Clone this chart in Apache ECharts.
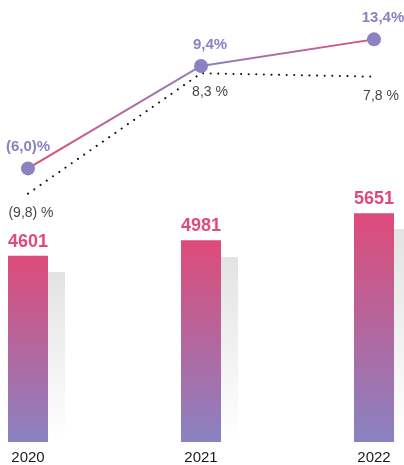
<!DOCTYPE html>
<html>
<head>
<meta charset="utf-8">
<script src="https://cdn.jsdelivr.net/npm/echarts@6/dist/echarts.min.js"></script>
<style>
html,body{margin:0;padding:0;background:#fff;}
#c{width:404px;height:465px;}
</style>
</head>
<body>
<div id="c"></div>
<script>
const categories = ['2020', '2021', '2022'];
const revenue = [4601, 4981, 5651];
const shadowValues = [4200, 4570, 5260];
const marginActual = [-6.0, 9.4, 13.4];
const marginDotted = [-9.8, 8.3, 7.8];

const PINK = '#de4b79';
const PURPLE = '#8a82c2';
const FONT = 'Liberation Sans';

function fmt(v, space) {
  const s = Math.abs(v).toFixed(1).replace('.', ',');
  return (v < 0 ? '(' + s + ')' : s) + (space ? ' %' : '%');
}

const chart = echarts.init(document.getElementById('c'), null, {renderer: 'canvas'});

const seg1 = marginActual.map((v, i) => (i <= 1 ? v : null));
const seg2 = marginActual.map((v, i) => (i >= 1 ? v : null));

const actualLabelOffsets = [[0, 0], [9, 0], [9, 0]];
const dottedLabelOffsets = [[3, 0], [9, 0], [7, 1]];

chart.setOption({
  animation: false,
  textStyle: {fontFamily: FONT},
  grid: [
    {left: 28, right: 30, top: 0, bottom: 23},
    {left: 45, right: 13, top: 0, bottom: 23}
  ],
  xAxis: [
    {type: 'category', gridIndex: 0, data: categories, boundaryGap: false,
     axisLine: {show: false}, axisTick: {show: false},
     axisLabel: {color: '#1a1a1a', fontSize: 15, fontFamily: FONT, margin: 8}},
    {type: 'category', gridIndex: 1, data: categories, boundaryGap: false, show: false}
  ],
  yAxis: [
    {type: 'value', gridIndex: 0, min: 0, max: 10917, show: false, splitLine: {show: false}},
    {type: 'value', gridIndex: 0, min: -47.14, max: 19.32, show: false, splitLine: {show: false}},
    {type: 'value', gridIndex: 1, min: 0, max: 10917, show: false, splitLine: {show: false}}
  ],
  series: [
    {
      type: 'bar', xAxisIndex: 1, yAxisIndex: 2, data: shadowValues, barWidth: 40, z: 1,
      itemStyle: {color: new echarts.graphic.LinearGradient(0, 0, 0, 1, [
        {offset: 0, color: '#e3e3e3'}, {offset: 1, color: 'rgba(255,255,255,1)'}])},
      silent: true
    },
    {
      type: 'bar', xAxisIndex: 0, yAxisIndex: 0, data: revenue, barWidth: 40, z: 2,
      itemStyle: {color: new echarts.graphic.LinearGradient(0, 0, 0, 1, [
        {offset: 0, color: PINK}, {offset: 1, color: PURPLE}])},
      label: {show: true, position: 'top', distance: 5, color: PINK, fontWeight: 'bold',
              fontSize: 18, fontFamily: FONT}
    },
    {
      type: 'line', xAxisIndex: 0, yAxisIndex: 1, data: marginDotted, z: 3,
      symbol: 'none',
      lineStyle: {color: '#111', width: 2, type: [0.1, 7.5], cap: 'round'},
      label: {show: false}
    },
    {
      type: 'scatter', xAxisIndex: 0, yAxisIndex: 1, symbolSize: 0, z: 3,
      data: marginDotted.map((v, i) => ({value: v, label: {offset: dottedLabelOffsets[i]}})),
      label: {show: true, position: 'bottom', distance: 12, color: '#111', fontSize: 14,
              fontFamily: FONT, formatter: p => fmt(p.value, true)}
    },
    {
      type: 'line', xAxisIndex: 0, yAxisIndex: 1, data: seg1, z: 4, symbol: 'none',
      lineStyle: {width: 2, color: new echarts.graphic.LinearGradient(0, 0, 1, 0, [
        {offset: 0, color: PINK}, {offset: 1, color: PURPLE}])}
    },
    {
      type: 'line', xAxisIndex: 0, yAxisIndex: 1, data: seg2, z: 4, symbol: 'none',
      lineStyle: {width: 2, color: new echarts.graphic.LinearGradient(0, 0, 1, 0, [
        {offset: 0, color: PURPLE}, {offset: 1, color: PINK}])}
    },
    {
      type: 'scatter', xAxisIndex: 0, yAxisIndex: 1, symbol: 'circle', symbolSize: 14, z: 5,
      itemStyle: {color: PURPLE, opacity: 1},
      data: marginActual.map((v, i) => ({value: v, label: {offset: actualLabelOffsets[i]}})),
      label: {show: true, position: 'top', distance: 7, color: PURPLE, fontWeight: 'bold',
              fontSize: 15, fontFamily: FONT, formatter: p => fmt(p.value, false)}
    }
  ]
});
</script>
</body>
</html>
